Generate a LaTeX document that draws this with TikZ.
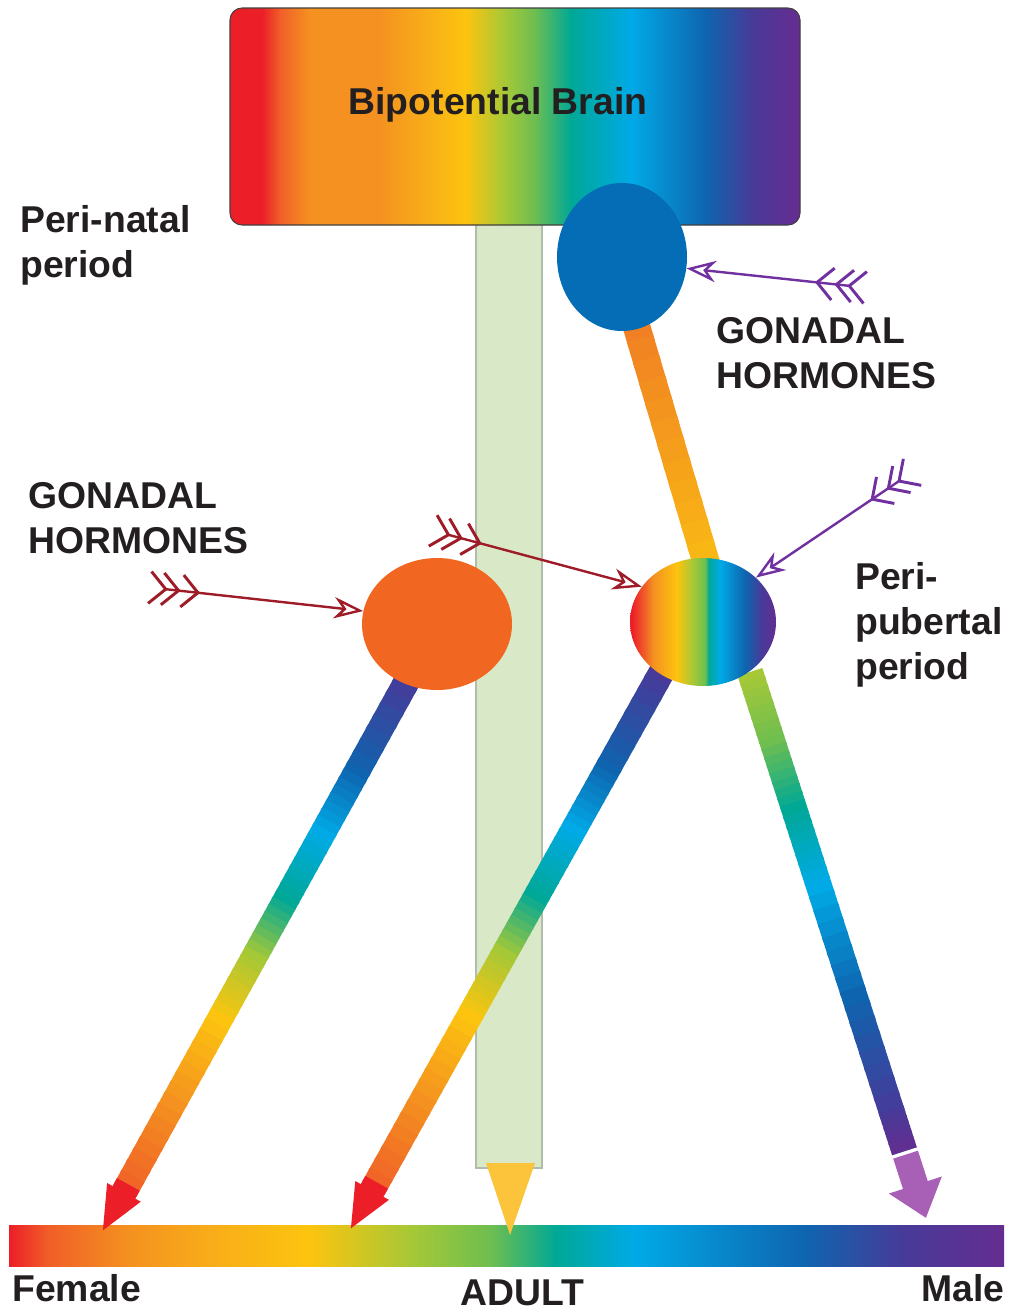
\documentclass[tikz,border=0pt]{standalone}
\usepackage{fontspec}
\setmainfont{Liberation Sans}
\usepackage{tikz}
\usetikzlibrary{shapes.geometric,arrows.meta,calc}

\definecolor{rRed}{RGB}{236,30,40}
\definecolor{rOrangeRed}{RGB}{240,95,40}
\definecolor{rOrange}{RGB}{244,145,32}
\definecolor{rAmber}{RGB}{248,172,25}
\definecolor{rYellow}{RGB}{252,196,15}
\definecolor{rLime}{RGB}{165,200,55}
\definecolor{rGreen}{RGB}{110,190,80}
\definecolor{rTeal}{RGB}{0,168,150}
\definecolor{rCyan}{RGB}{0,170,230}
\definecolor{rBlue}{RGB}{15,100,175}
\definecolor{rIndigo}{RGB}{72,58,152}
\definecolor{rPurple}{RGB}{100,45,145}
\definecolor{rLavender}{RGB}{168,95,182}
\definecolor{ovalBlue}{RGB}{5,108,182}
\definecolor{ovalOrange}{RGB}{241,103,34}
\definecolor{barGreen}{RGB}{217,232,198}
\definecolor{barEdge}{RGB}{178,188,172}
\definecolor{adultYellow}{RGB}{251,196,58}
\definecolor{hormPurple}{RGB}{112,48,160}
\definecolor{hormRed}{RGB}{158,27,40}
\definecolor{txtDark}{RGB}{35,31,32}
\definecolor{shaftOrange}{RGB}{240,128,35}
\definecolor{shaftYellow}{RGB}{250,188,20}

\pgfdeclarehorizontalshading{brainshade}{100bp}{color(0bp)=(rRed); color(27.8bp)=(rRed); color(29.4bp)=(rOrangeRed); color(32bp)=(rOrange); color(38bp)=(rOrange); color(42bp)=(rAmber); color(45.7bp)=(rYellow); color(49.1bp)=(rLime); color(51.7bp)=(rGreen); color(54.9bp)=(rTeal); color(60.2bp)=(rCyan); color(66.8bp)=(rBlue); color(70.8bp)=(rIndigo); color(74.7bp)=(rPurple); color(100bp)=(rPurple)}
\pgfdeclarehorizontalshading{scaleshade}{100bp}{color(0bp)=(rRed); color(25bp)=(rRed); color(27bp)=(rOrangeRed); color(31bp)=(rOrange); color(35bp)=(rAmber); color(40.1bp)=(rYellow); color(45.3bp)=(rLime); color(49.2bp)=(rGreen); color(52.5bp)=(rTeal); color(56.4bp)=(rCyan); color(65.1bp)=(rBlue); color(70bp)=(rIndigo); color(75bp)=(rPurple); color(100bp)=(rPurple)}
\pgfdeclarehorizontalshading{mixshade}{100bp}{color(0bp)=(rRed); color(25.7bp)=(rRed); color(30bp)=(rOrangeRed); color(33bp)=(rOrange); color(41.1bp)=(rYellow); color(46.6bp)=(rLime); color(50.7bp)=(rGreen); color(52bp)=(rTeal); color(55.8bp)=(rCyan); color(64.4bp)=(rBlue); color(70.2bp)=(rIndigo); color(75bp)=(rPurple); color(100bp)=(rPurple)}

% stops along the shafts
\def\femstops{0/0.17/rIndigo/rBlue, 0.17/0.28/rBlue/rCyan, 0.28/0.40/rCyan/rTeal, 0.40/0.50/rTeal/rLime, 0.50/0.61/rLime/rYellow, 0.61/0.76/rYellow/rOrange, 0.76/0.92/rOrange/rOrangeRed}
\def\malestops{0/0.12/rLime/rGreen, 0.12/0.24/rGreen/rTeal, 0.24/0.38/rTeal/rCyan, 0.38/0.58/rCyan/rBlue, 0.58/0.80/rBlue/rIndigo, 0.80/0.875/rIndigo/rPurple}

\begin{document}
\begin{tikzpicture}[x=0.75pt,y=0.75pt,yscale=-1,xscale=1]
\tikzset{
  lbl/.style={anchor=north west, inner sep=0pt, align=left, text=txtDark, font=\fontsize{28}{34}\selectfont\bfseries},
  oval/.style={ellipse, inner sep=0pt, draw=none},
  shaft/.style={line width=19.5pt},
  hormone/.style={line width=1.8pt, fill=white, arrows={{Straight Barb[reversed,length=12pt,width=24pt,line width=2.2pt,sep=-5pt] Straight Barb[reversed,length=12pt,width=24pt,line width=2.2pt,sep=-5pt] Straight Barb[reversed,length=12pt,width=24pt,line width=2.2pt]}-{Stealth[open,fill=white,length=22pt,width=16pt,inset=7pt]}}},
}
\useasboundingbox (0,0) rectangle (1013,1314);

% Adult bar
\draw [fill=barGreen, draw=barEdge, line width=0.8pt] (476,224) rectangle (542,1168) ;
% Brain box
\shadedraw [shading=brainshade, draw=black!75, line width=0.8pt, rounded corners=9pt] (230,8) rectangle (800,225) ;
% Scale bar
\shade [shading=scaleshade] (9,1225) rectangle (1004,1266) ;
% Adult tip
\fill [adultYellow] (486,1163) -- (535,1163) -- (510,1235) -- cycle ;

% Shaft ends
\coordinate (fA) at (412,672);
\coordinate (fB) at (102,1232);
\coordinate (hA) at (664,668);
\coordinate (hB) at (350,1230);
\coordinate (gA) at (750,672);
\coordinate (gB) at (926,1218);
\coordinate (oA) at (634,318);
\coordinate (oB) at (706,562);

% Female shafts
\foreach \sA/\sB in {fA/fB, hA/hB}{
  \foreach \ta/\tb/\ca/\cb in \femstops{
    \foreach \k in {0,...,7}{
      \pgfmathtruncatemacro{\p}{100*\k/8}
      \draw [shaft, color=\cb!\p!\ca] ($(\sA)!{\ta+(\tb-\ta)*\k/8}!(\sB)$) -- ($(\sA)!{\ta+(\tb-\ta)*(\k+1.3)/8}!(\sB)$) ;
    }
  }
  \draw [shaft, color=rRed, -{Triangle[length=34pt,width=26pt]}] ($(\sA)!0.915!(\sB)$) -- (\sB) ;
}
% Male shaft
\foreach \ta/\tb/\ca/\cb in \malestops{
  \foreach \k in {0,...,7}{
    \pgfmathtruncatemacro{\p}{100*\k/8}
    \draw [shaft, color=\cb!\p!\ca] ($(gA)!{\ta+(\tb-\ta)*\k/8}!(gB)$) -- ($(gA)!{\ta+(\tb-\ta)*(\k+1.3)/8}!(gB)$) ;
  }
}
\draw [shaft, color=rLavender, -{Triangle[length=26pt,width=40pt]}] ($(gA)!0.884!(gB)$) -- (gB) ;
% Peri-natal shaft
\foreach \k in {0,...,11}{
  \pgfmathtruncatemacro{\p}{100*\k/12}
  \draw [line width=20.5pt, color=shaftYellow!\p!shaftOrange] ($(oA)!{\k/12}!(oB)$) -- ($(oA)!{(\k+1.3)/12}!(oB)$) ;
}

% Ovals
\node [oval, fill=ovalBlue, minimum width=97.5pt, minimum height=111pt] (blueOval) at (622,257) {};
\node [oval, fill=ovalOrange, minimum width=112.5pt, minimum height=99pt] (orangeOval) at (437,624) {};
\node [oval, shade, shading=mixshade, minimum width=109.5pt, minimum height=96pt] (mixOval) at (703,622) {};

% Hormone arrows
\coordinate (tailP1) at (860,287);
\coordinate (tailP2) at (908,475);
\coordinate (tailR1) at (438,532);
\coordinate (tailR2) at (155,588);
\draw [hormone, draw=hormPurple] (tailP1) -- (blueOval.-10) ;
\draw [hormone, draw=hormPurple] (tailP2) -- (mixOval.40) ;
\draw [hormone, draw=hormRed] (tailR1) -- (mixOval.150) ;
\draw [hormone, draw=hormRed] (tailR2) -- (orangeOval.170) ;

% Text Node
\node [lbl, anchor=base] (brainLbl) at (498,114) {Bipotential Brain};
% Text Node
\node [lbl] (periNatal) at (20,205) {Peri-natal\\period};
% Text Node
\node [lbl] (gonadR) at (716,317) {GONADAL\\HORMONES};
% Text Node
\node [lbl] (gonadL) at (28,482) {GONADAL\\HORMONES};
% Text Node
\node [lbl] (periPub) at (855,562) {Peri-\\pubertal\\period};
% Text Node
\node [lbl] (female) at (12,1274) {Female};
% Text Node
\node [lbl] (adult) at (460,1280) {ADULT};
% Text Node
\node [lbl, anchor=north east] (male) at (1005,1274) {Male};

\end{tikzpicture}
\end{document}
